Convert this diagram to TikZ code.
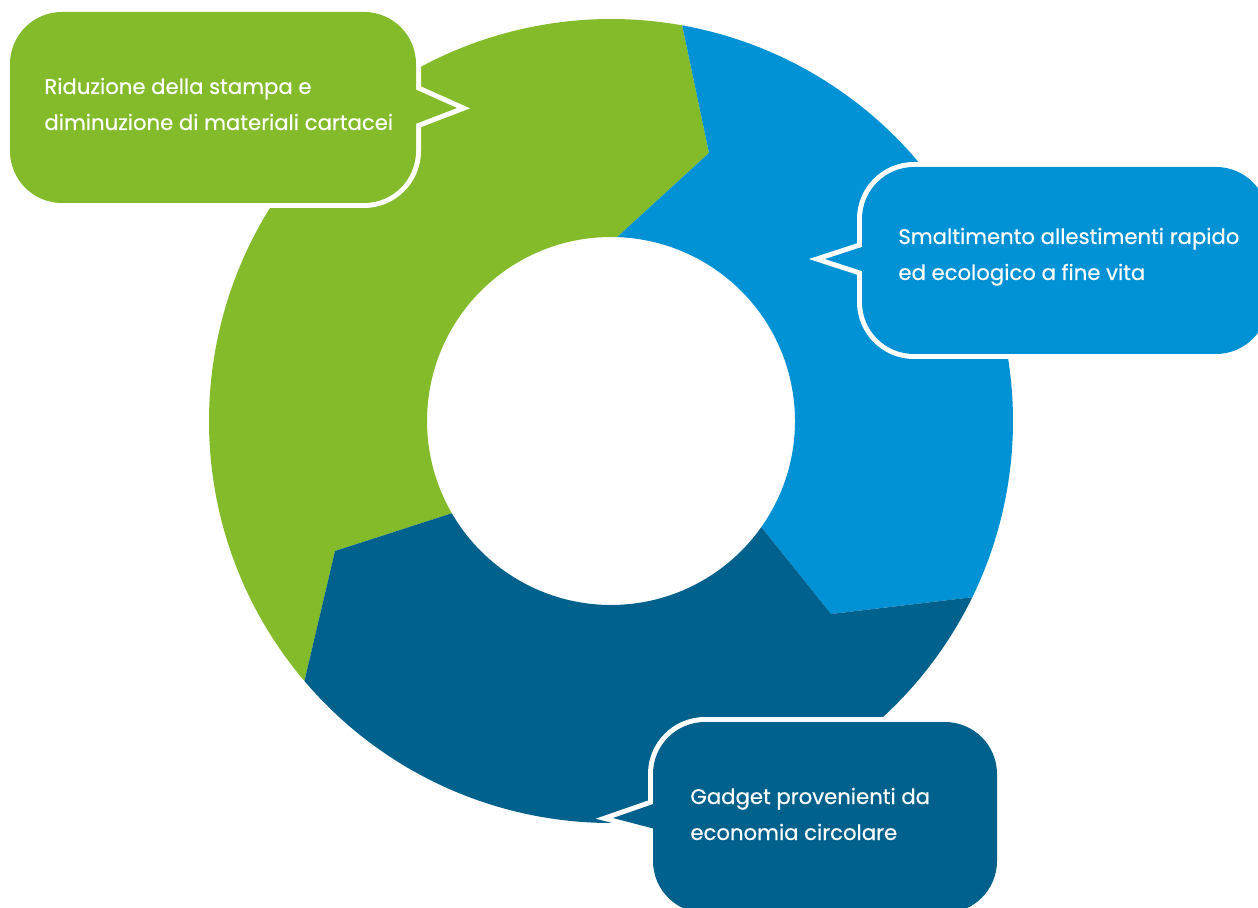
\documentclass[tikz,border=0pt]{standalone}
\usepackage{fontspec}
\setmainfont{Poppins}[FakeBold=0.4]
\definecolor{ecogreen}{RGB}{131,187,42}
\definecolor{ecoblue}{RGB}{0,146,213}
\definecolor{ecodark}{RGB}{0,98,140}
\tikzset{
    % Speech bubbles
    bubble edge/.style={draw=white,line width=5pt,line join=miter},
    bubble body/.style={rounded corners=26pt},
    bubble text/.style={text=white,align=left,anchor=base west,inner sep=0pt,
        font=\fontsize{10.6}{18}\selectfont}
}

\begin{document}
\begin{tikzpicture}[x=0.5pt,y=-0.5pt]
    \useasboundingbox (0,0) rectangle (1258,908);
    \clip (0,0) rectangle (1258,908);
    \fill[white] (0,0) rectangle (1258,908);

    % ring made of three arrow pieces, running clockwise
    \begin{scope}[shift={(611,421)}]
        \fill[ecogreen] (139.7:402) arc[start angle=139.7,end angle=280.2,radius=402]
            -- (98,-268) -- (271.9:184) arc[start angle=271.9,end angle=149.9,radius=184]
            -- (-276,130) -- cycle;
        \fill[ecoblue] (280.2:402) arc[start angle=280.2,end angle=386,radius=402]
            -- (220,193) -- (395.2:184) arc[start angle=395.2,end angle=271.9,radius=184]
            -- (98,-268) -- cycle;
        \fill[ecodark] (26:402) arc[start angle=26,end angle=139.7,radius=402]
            -- (-276,130) -- (149.9:184) arc[start angle=149.9,end angle=35.2,radius=184]
            -- (220,193) -- cycle;
    \end{scope}

    % bubble top left
    \draw[bubble edge,bubble body] (10,12) rectangle (416,203);
    \draw[bubble edge] (410,87) -- (457,108) -- (410,126) -- cycle;
    \fill[ecogreen,bubble body] (10,12) rectangle (416,203);
    \fill[ecogreen] (410,87) -- (457,108) -- (410,126) -- cycle;
    \node[bubble text] (riduzione) at (44,130) {Riduzione della stampa e\\diminuzione di materiali cartacei};

    % bubble right
    \draw[bubble edge,bubble body] (862,167) rectangle (1268,354);
    \draw[bubble edge] (868,245) -- (825,259) -- (868,273) -- cycle;
    \fill[ecoblue,bubble body] (862,167) rectangle (1268,354);
    \fill[ecoblue] (868,245) -- (825,259) -- (868,273) -- cycle;
    \node[bubble text] (smaltimento) at (898,280) {Smaltimento allestimenti rapido\\ed ecologico a fine vita};

    % bubble bottom
    \draw[bubble edge,bubble body] (653,722) rectangle (997,913);
    \draw[bubble edge] (659,802) -- (613,818) -- (659,830) -- cycle;
    \fill[ecodark,bubble body] (653,722) rectangle (997,913);
    \fill[ecodark] (659,802) -- (613,818) -- (659,830) -- cycle;
    \node[bubble text] (gadget) at (690,840) {Gadget provenienti da\\economia circolare};
\end{tikzpicture}
\end{document}
